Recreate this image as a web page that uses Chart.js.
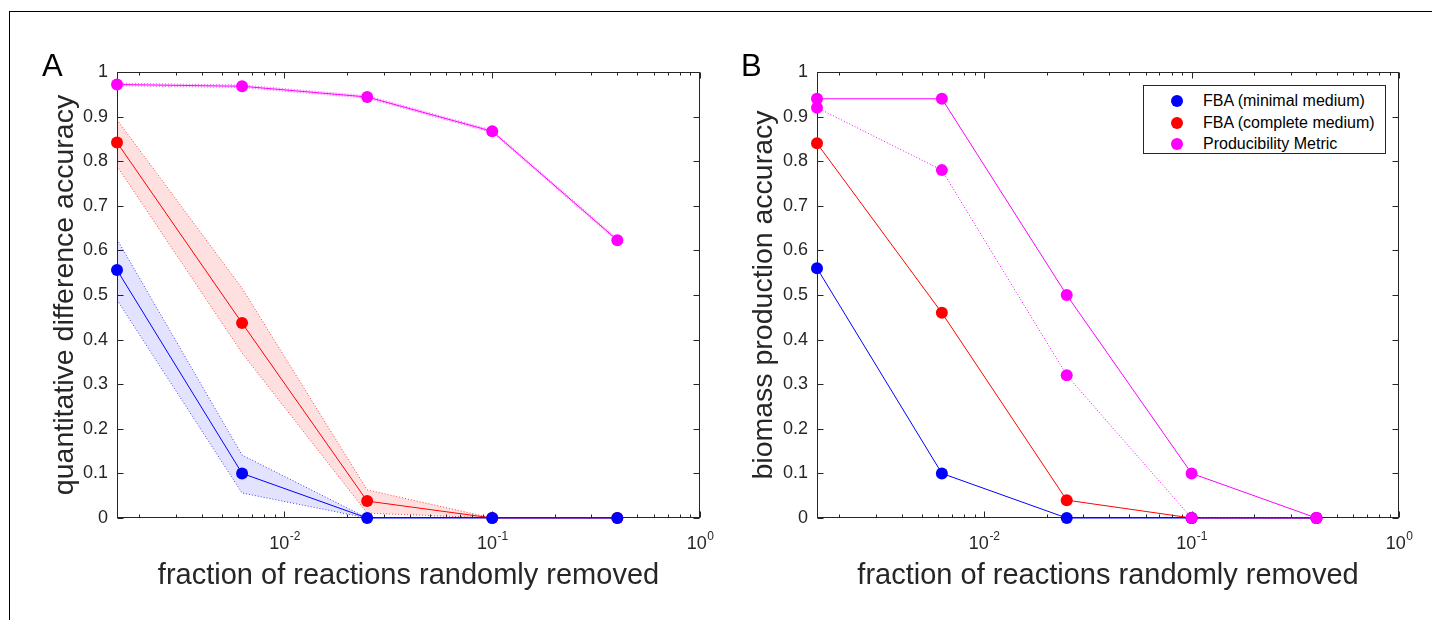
<!DOCTYPE html>
<html>
<head>
<meta charset="utf-8">
<script src="https://cdn.jsdelivr.net/npm/chart.js@4.4.1/dist/chart.umd.min.js"></script>
<style>
  body{ margin:0; width:1432px; height:620px; background:#fff; position:relative; overflow:hidden;
        font-family:"Liberation Sans", Arial, Helvetica, sans-serif; }
  .frame{ position:absolute; left:9px; top:11px; right:0; bottom:0; border-top:1px solid #000; border-left:1px solid #000; }
  canvas{ position:absolute; top:0; }
  .letter{ position:absolute; font-size:31px; color:#000; line-height:1; }
  .legend{ position:absolute; left:1143px; top:85px; width:243px; height:69px; box-sizing:border-box;
           border:1px solid #262626; background:#fff; }
  .legend .row{ position:absolute; left:0; height:20px; line-height:20px; font-size:16px; color:#000; white-space:nowrap; }
  .legend .dot{ position:absolute; left:27px; top:4px; width:12px; height:12px; border-radius:50%; }
  .legend .txt{ position:absolute; left:59px; top:0; }
</style>
</head>
<body>
<div class="frame"></div>
<canvas id="panelA" width="716" height="620" style="left:0"></canvas>
<canvas id="panelB" width="716" height="620" style="left:716px"></canvas>
<div class="letter" style="left:42px;top:50px">A</div>
<div class="letter" style="left:741px;top:50px">B</div>
<div class="legend" id="legendB"></div>
<script>
// ---- data ----
const fractions = [0.0015625, 0.00625, 0.025, 0.1, 0.4];
const yTickValues = [0, 0.1, 0.2, 0.3, 0.4, 0.5, 0.6, 0.7, 0.8, 0.9, 1];
const xDecades = [0.01, 0.1, 1];
const xDecadeExps = ['-2', '-1', '0'];

// panel A — quantitative difference accuracy (mean, upper, lower)
const qdaFbaMin    = [0.556, 0.100, 0, 0, 0];
const qdaFbaMinHi  = [0.625, 0.141, 0, 0, 0];
const qdaFbaMinLo  = [0.489, 0.056, 0, 0, 0];
const qdaFbaComp   = [0.842, 0.437, 0.038, 0, 0];
const qdaFbaCompHi = [0.893, 0.515, 0.063, 0, 0];
const qdaFbaCompLo = [0.789, 0.370, 0.011, 0, 0];
const qdaProd      = [0.972, 0.968, 0.944, 0.867, 0.623];
const qdaProdHi    = [0.975, 0.971, 0.947, 0.870, 0.626];
const qdaProdLo    = [0.969, 0.965, 0.941, 0.864, 0.620];

// panel B — biomass production accuracy
const bpaFbaMin    = [0.56, 0.10, 0, 0, 0];
const bpaFbaComp   = [0.84, 0.46, 0.04, 0, 0];
const bpaProd      = [0.94, 0.94, 0.50, 0.10, 0];
const bpaProdAlt   = [0.92, 0.78, 0.32, 0, 0];

const seriesNames = ['FBA (minimal medium)', 'FBA (complete medium)', 'Producibility Metric'];

const BLUE = '#0000ff', RED = '#ff0000', MAGENTA = '#ff00ff', AXIS = '#262626';
const FONT = '"Liberation Sans", Arial, Helvetica, sans-serif';

const pts = (ys) => ys.map((y, i) => ({ x: fractions[i], y }));

function mainLine(ys, color, dash){
  return { data: pts(ys), borderColor: color, backgroundColor: color, borderWidth: 1,
           borderDash: dash || [], pointRadius: 6, pointBackgroundColor: color, pointBorderWidth: 0,
           pointHoverRadius: 6, fill: false, clip: false, tension: 0 };
}
function bandEdge(ys, color, fillColor, fillTo){
  return { data: pts(ys), borderColor: color, borderWidth: 1, borderDash: [1, 2], pointRadius: 0,
           fill: fillTo, backgroundColor: fillColor, tension: 0 };
}

// matlab-like box with inward ticks and 10^n labels
const matlabAxes = {
  id: 'matlabAxes',
  beforeDatasetsDraw(chart){
    const { ctx, chartArea: { left, right, top, bottom }, scales: { x, y } } = chart;
    const L = Math.round(left) + 0.5, R = Math.round(right) - 0.5, T = Math.round(top) + 0.5, B = Math.round(bottom) - 0.5;
    ctx.save();
    ctx.strokeStyle = AXIS; ctx.lineWidth = 1;
    ctx.strokeRect(L, T, R - L, B - T);
    ctx.beginPath();
    yTickValues.forEach(v => {
      const py = Math.round(y.getPixelForValue(v)) + 0.5;
      ctx.moveTo(L, py); ctx.lineTo(L + 6, py);
      ctx.moveTo(R, py); ctx.lineTo(R - 6, py);
    });
    for (let d = -3; d <= 0; d++){
      for (let m = 1; m <= 9; m++){
        const v = m * Math.pow(10, d);
        if (v < x.min * 0.999 || v > x.max * 1.001) continue;
        const px = Math.round(x.getPixelForValue(v)) + 0.5;
        const len = m === 1 ? 6 : 3;
        ctx.moveTo(px, B); ctx.lineTo(px, B - len);
        ctx.moveTo(px, T); ctx.lineTo(px, T + len);
      }
    }
    ctx.stroke();
    ctx.fillStyle = AXIS; ctx.textBaseline = 'alphabetic'; ctx.textAlign = 'left';
    xDecades.forEach((v, i) => {
      const px = x.getPixelForValue(v);
      ctx.font = '18px ' + FONT;
      const wb = ctx.measureText('10').width;
      ctx.font = '12px ' + FONT;
      const we = ctx.measureText(xDecadeExps[i]).width;
      const x0 = px - (wb + we) / 2;
      ctx.font = '18px ' + FONT;
      ctx.fillText('10', x0, bottom + 31);
      ctx.font = '12px ' + FONT;
      ctx.fillText(xDecadeExps[i], x0 + wb + 0.5, bottom + 22);
    });
    ctx.restore();
  }
};

function makePanel(canvasId, datasets, yTitle, yAxisWidth, yTitlePad, rightPad){
  return new Chart(document.getElementById(canvasId), {
    type: 'line',
    data: { datasets },
    options: {
      responsive: false, animation: false, devicePixelRatio: 1,
      layout: { padding: { left: 0, top: 72, right: rightPad, bottom: 0 } },
      plugins: { legend: { display: false }, tooltip: { enabled: false } },
      scales: {
        x: {
          type: 'logarithmic', min: fractions[0], max: 1,
          grid: { display: false, drawTicks: false }, border: { display: false },
          ticks: { display: false },
          title: { display: true, text: 'fraction of reactions randomly removed', color: AXIS,
                   font: { family: FONT, size: 29 }, padding: { top: 0, bottom: 27 } },
          afterFit: (s) => { s.height = 102; }
        },
        y: {
          min: 0, max: 1,
          afterBuildTicks: (s) => { s.ticks = yTickValues.map(v => ({ value: v })); },
          grid: { display: false, drawTicks: false }, border: { display: false },
          ticks: { color: AXIS, padding: 9, font: { family: FONT, size: 18 },
                   callback: (v) => String(Math.round(v * 10) / 10) },
          title: { display: true, text: yTitle, color: AXIS,
                   font: { family: FONT, size: 28.5 }, padding: { top: yTitlePad, bottom: 0 } },
          afterFit: (s) => { s.width = yAxisWidth; }
        }
      }
    },
    plugins: [matlabAxes]
  });
}

makePanel('panelA', [
  mainLine(qdaFbaMin, BLUE),
  mainLine(qdaFbaComp, RED),
  mainLine(qdaProd, MAGENTA),
  bandEdge(qdaFbaMinHi, 'rgba(0,0,255,0.75)', 'rgba(0,0,255,0.11)', '+1'),
  bandEdge(qdaFbaMinLo, 'rgba(0,0,255,0.75)', 'transparent', false),
  bandEdge(qdaFbaCompHi, 'rgba(255,0,0,0.75)', 'rgba(255,0,0,0.12)', '+1'),
  bandEdge(qdaFbaCompLo, 'rgba(255,0,0,0.75)', 'transparent', false),
  bandEdge(qdaProdHi, 'rgba(255,0,255,0.6)', 'rgba(255,0,255,0.15)', '+1'),
  bandEdge(qdaProdLo, 'rgba(255,0,255,0.6)', 'transparent', false)
], 'quantitative difference accuracy', 117, 48, 16);

makePanel('panelB', [
  mainLine(bpaProd, MAGENTA),
  mainLine(bpaProdAlt, MAGENTA, [1, 2]),
  mainLine(bpaFbaMin, BLUE),
  mainLine(bpaFbaComp, RED)
], 'biomass production accuracy', 101, 31, 33);

// legend for panel B
const legendColors = [BLUE, RED, MAGENTA];
const legendEl = document.getElementById('legendB');
seriesNames.forEach((name, i) => {
  const row = document.createElement('div');
  row.className = 'row';
  row.style.top = (5 + i * 21.5) + 'px';
  row.innerHTML = '<span class="dot" style="background:' + legendColors[i] + '"></span><span class="txt">' + name + '</span>';
  legendEl.appendChild(row);
});
</script>
</body>
</html>
